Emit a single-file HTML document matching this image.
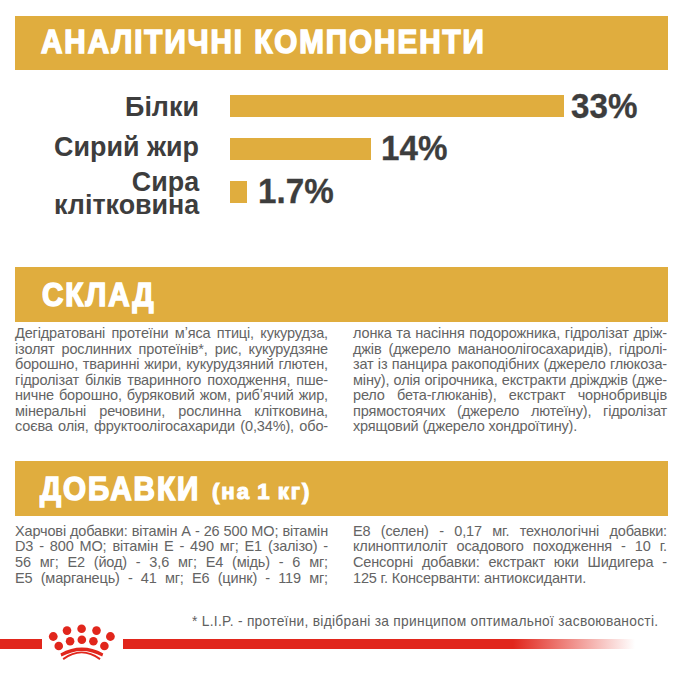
<!DOCTYPE html>
<html lang="uk"><head><meta charset="utf-8"><title>Аналітичні компоненти</title>
<style>
html,body{margin:0;padding:0;background:#fff;}
body{width:682px;height:682px;overflow:hidden;position:relative;font-family:"Liberation Sans",sans-serif;}
.ban{position:absolute;left:15px;width:653px;height:54.5px;background:#E0AD3E;}
.h{position:absolute;color:#fff;font-weight:bold;font-size:33px;line-height:35px;white-space:nowrap;transform-origin:0 0;-webkit-text-stroke:1.6px #fff;transform:scaleX(0.897);letter-spacing:2.2px;}
.lab{position:absolute;right:483px;color:#3d3d3d;font-weight:bold;font-size:28px;line-height:28px;white-space:nowrap;text-align:right;transform-origin:100% 0;transform:scaleX(0.96);}
.bar{position:absolute;left:230px;height:22px;background:#E0AD3E;}
.pct{position:absolute;color:#3d3d3d;font-weight:bold;font-size:35.5px;line-height:35.5px;white-space:nowrap;transform-origin:0 0;transform:scaleX(0.935);-webkit-text-stroke:0.3px #3d3d3d;}
.t{position:absolute;color:#646464;font-size:14.5px;letter-spacing:-0.15px;white-space:nowrap;}
.t div{text-align:justify;text-align-last:justify;height:15.5px;line-height:15.5px;}
.t div.e{text-align-last:left;}
.s div{height:15.83px;line-height:15.83px;}
.foot{position:absolute;left:191.5px;top:612.5px;color:#606060;font-size:14.5px;line-height:16px;white-space:nowrap;letter-spacing:0.3px;transform-origin:0 0;transform:scaleX(0.949);}
.red{position:absolute;top:639.3px;height:9.7px;background:#E1261C;}
</style></head><body>

<div class="ban" style="top:15.5px"></div>
<div class="h" style="left:41px;top:23.5px">АНАЛІТИЧНІ КОМПОНЕНТИ</div>

<div class="lab" style="top:92.7px">Білки</div>
<div class="lab" style="top:133px">Сирий жир</div>
<div class="lab" style="top:168px">Сира</div>
<div class="lab" style="top:190.9px">клітковина</div>

<div class="bar" style="top:95.3px;width:333.5px"></div>
<div class="bar" style="top:137.8px;width:141px"></div>
<div class="bar" style="top:180.6px;width:17px"></div>

<div class="pct" style="left:571px;top:88.6px">33%</div>
<div class="pct" style="left:380.5px;top:131.2px">14%</div>
<div class="pct" style="left:258px;top:173.6px">1.7%</div>

<div class="ban" style="top:267px"></div>
<div class="h" style="left:42px;top:276.5px">СКЛАД</div>

<div class="t" style="left:15px;top:326.3px;width:313px">
<div>Дегідратовані протеїни мʼяса птиці, кукурудза,</div>
<div>ізолят рослинних протеїнів*, рис, кукурудзяне</div>
<div>борошно, тваринні жири, кукурудзяний глютен,</div>
<div>гідролізат білків тваринного походження, пше-</div>
<div>ничне борошно, буряковий жом, рибʼячий жир,</div>
<div>мінеральні речовини, рослинна клітковина,</div>
<div>соєва олія, фруктоолігосахариди (0,34%), обо-</div>
</div>
<div class="t" style="left:353px;top:326.3px;width:314px">
<div>лонка та насіння подорожника, гідролізат дріж-</div>
<div>джів (джерело мананоолігосахаридів), гідролі-</div>
<div>зат із панцира ракоподібних (джерело глюкоза-</div>
<div>міну), олія огірочника, екстракти дріжджів (дже-</div>
<div>рело бета-глюканів), екстракт чорнобривців</div>
<div>прямостоячих (джерело лютеїну), гідролізат</div>
<div class="e">хрящовий (джерело хондроїтину).</div>
</div>

<div class="ban" style="top:461.1px"></div>
<div class="h" style="left:40px;top:471px">ДОБАВКИ</div>
<div class="h" style="left:211.5px;top:479px;font-size:22px;line-height:26px;letter-spacing:1.9px;word-spacing:-1.8px;-webkit-text-stroke:1.1px #fff;transform:scaleX(1.01)">(на 1 кг)</div>

<div class="t s" style="left:15px;top:523.6px;width:313px">
<div>Харчові добавки: вітамін А - 26 500 МО; вітамін</div>
<div>D3 - 800 МО; вітамін Е - 490 мг; Е1 (залізо) -</div>
<div>56 мг; Е2 (йод) - 3,6 мг; Е4 (мідь) - 6 мг;</div>
<div>Е5 (марганець) - 41 мг; Е6 (цинк) - 119 мг;</div>
</div>
<div class="t s" style="left:353px;top:523.6px;width:314px">
<div>Е8 (селен) - 0,17 мг. технологічні добавки:</div>
<div>клиноптилоліт осадового походження - 10 г.</div>
<div>Сенсорні добавки: екстракт юки Шидигера -</div>
<div class="e">125 г. Консерванти: антиоксиданти.</div>
</div>

<div class="foot">* L.I.P. - протеїни, відібрані за принципом оптимальної засвоюваності.</div>

<div class="red" style="left:0;width:41.7px"></div>
<div class="red" style="left:122.6px;width:512px;background:linear-gradient(to right,#E1261C 0,#E1261C 390px,rgba(225,38,28,0) 100%)"></div>

<svg style="position:absolute;left:40px;top:620px" width="80" height="45" viewBox="40 620 80 45">
<g fill="#E1261C">
<circle cx="53.25" cy="636.5" r="4.4"/>
<circle cx="67" cy="630.6" r="4.3"/>
<circle cx="81.6" cy="628.7" r="4.3"/>
<circle cx="96.5" cy="630.6" r="4.3"/>
<circle cx="110.4" cy="636.5" r="4.4"/>
<circle cx="58.75" cy="646" r="4.3"/>
<circle cx="70.1" cy="641.3" r="4.3"/>
<circle cx="81.85" cy="639.8" r="4.3"/>
<circle cx="93.4" cy="641.3" r="4.3"/>
<circle cx="104.4" cy="646" r="4.3"/>
</g>
<path d="M60.4 653.4 Q81.85 641.6 103.3 653.4 L102.2 656.6 Q81.85 645.2 61.5 656.6 Z" fill="#E1261C"/>
<path d="M62.6 658.2 Q81.6 645 100.6 658.2 L99.5 660 Q81.6 646.4 63.7 660 Z" fill="#E1261C"/>
</svg>

</body></html>
